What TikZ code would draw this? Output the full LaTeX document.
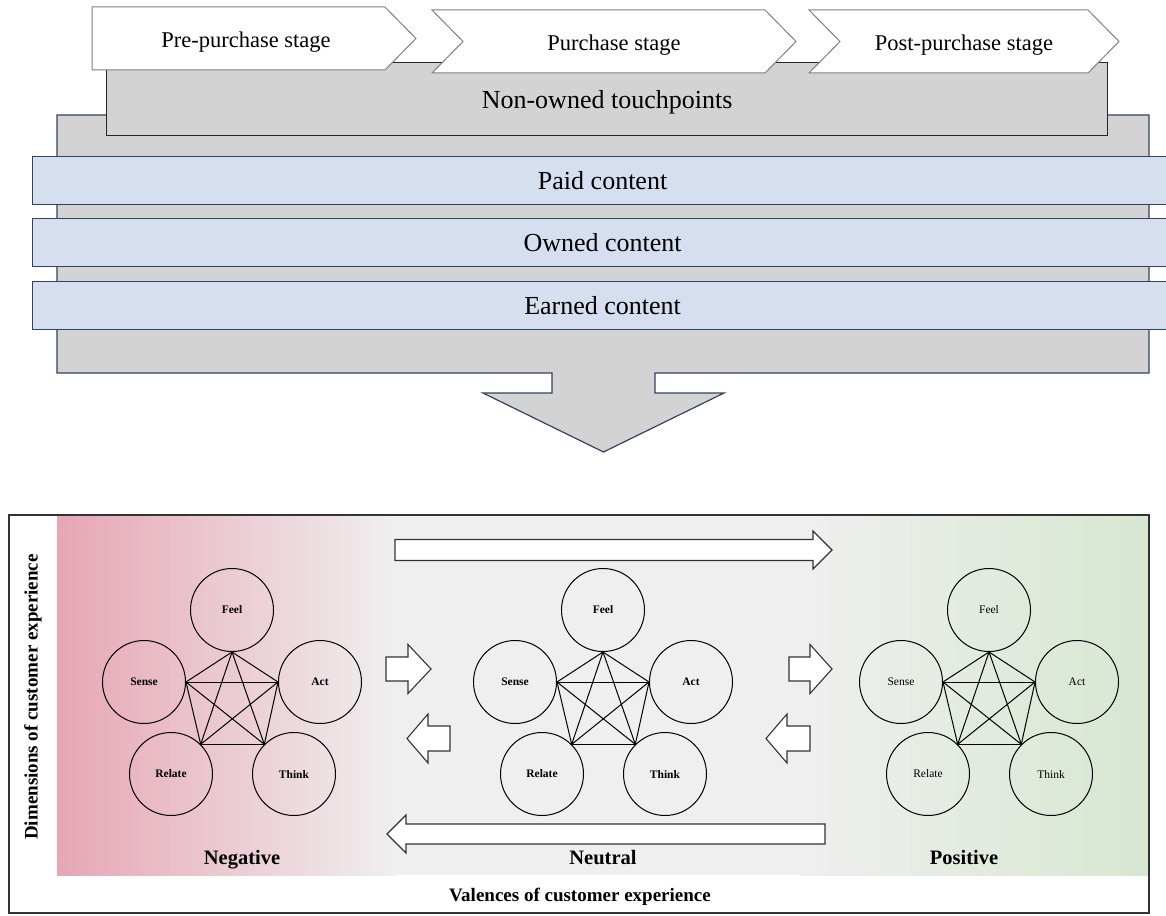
\documentclass[tikz,border=0pt]{standalone}
\usepackage{fontspec}
\setmainfont{Liberation Serif}
\usetikzlibrary{positioning}
\definecolor{bandblue}{RGB}{214,223,239}
\definecolor{bandline}{RGB}{50,66,96}
\definecolor{boxgray}{RGB}{211,211,211}
\definecolor{negpink}{RGB}{231,166,181}
\definecolor{midgray}{RGB}{239,239,239}
\definecolor{posgreen}{RGB}{215,231,209}

\tikzset{outerbox/.style={draw=bandline,fill=boxgray,line width=1.2pt}}
\tikzset{band/.style={draw=bandline,fill=bandblue,line width=1.2pt,anchor=north west,
                      minimum width=1140,minimum height=48,font=\fontsize{26}{30}\selectfont}}
\tikzset{touch/.style={draw=black!85,fill=boxgray,line width=1.2pt,anchor=north west,
                       minimum width=1001,minimum height=73,text depth=0pt,
                       font=\fontsize{26}{30}\selectfont}}
\tikzset{stagebox/.style={draw=black!50,fill=white,line width=1pt}}
\tikzset{stagetext/.style={anchor=base,font=\fontsize{22.5}{26}\selectfont}}
\tikzset{dimcircle/.style={draw,circle,line width=1pt,minimum size=83,inner sep=0pt}}
\tikzset{dimlink/.style={line width=1pt}}
\tikzset{valence/.style={anchor=base,font=\fontsize{20.5}{24}\selectfont\bfseries}}
\tikzset{axislabel/.style={font=\fontsize{19}{22}\selectfont\bfseries}}
\tikzset{blockarrow/.style={draw=black!80,fill=white,line width=1.1pt}}
\newcommand{\blockarrow}[6]{\draw[blockarrow] (#1,#4-#5) -- (#2,#4-#5) -- (#2,#4-#6) --
                            (#3,#4) -- (#2,#4+#6) -- (#2,#4+#5) -- (#1,#4+#5) -- cycle;}

\begin{document}
\begin{tikzpicture}[x=1pt,y=-1pt]
        \useasboundingbox (0,0) rectangle (1166,915);
        % Touchpoints and contents
        \draw[outerbox] (57,115) -- (1149,115) -- (1149,373) -- (655,373) -- (655,393) --
              (724,393) -- (603.5,452) -- (483,393) -- (552,393) -- (552,373) -- (57,373) -- cycle;
        \foreach \t/\y [count=\bi] in {Paid content/156,Owned content/218,Earned content/281}{%
              \node[band] (band\bi) at (32,\y) {\t};
            }
        \node[touch] (nonowned) at (106,62) {Non-owned touchpoints};
        % Stages
        \foreach \xl/\xr/\yt/\n/\xt/\t [count=\si] in {92/385/7/0/246/Pre-purchase stage,
                 432/765/10/31/614/Purchase stage,809/1088/10/31/964/Post-purchase stage}{%
              \draw[stagebox] (\xl,\yt) -- (\xr,\yt) -- ++(31,31.5) -- (\xr,\yt+63) --
                    (\xl,\yt+63) -- ++(\n,-31.5) -- cycle;
              \node[stagetext] (stage\si) at (\xt,\yt+41) {\t};
            }
        % Valences
        \shade[left color=negpink,right color=midgray] (57,516) rectangle (395,875);
        \fill[midgray] (394,516) rectangle (801,875);
        \shade[left color=midgray,right color=posgreen] (800,516) rectangle (1148,875);
        \draw[line width=1.2pt,black!80] (9,515) rectangle (1149,913);
        \foreach \cx/\cf [count=\ci] in {232/\bfseries,603/\bfseries,989/\mdseries}{%
              \begin{scope}[every node/.append style={font=\fontsize{11.5}{13}\selectfont\cf}]
              \node[dimcircle] (feel\ci) at (\cx,610) {Feel};
              \node[dimcircle] (sense\ci) at (\cx-88,682) {Sense};
              \node[dimcircle] (act\ci) at (\cx+88,682) {Act};
              \node[dimcircle] (relate\ci) at (\cx-61,774) {Relate};
              \node[dimcircle] (think\ci) at (\cx+62,774) {Think};
              \end{scope}
              \coordinate (f\ci) at (feel\ci.south);
              \coordinate (s\ci) at (sense\ci.east);
              \coordinate (a\ci) at (act\ci.west);
              \coordinate (r\ci) at (relate\ci.45);
              \coordinate (t\ci) at (think\ci.135);
              \foreach \p/\q in {f/s,f/a,f/r,f/t,s/a,s/r,s/t,a/r,a/t,r/t}{%
                    \draw[dimlink] (\p\ci) -- (\q\ci);
                  }
            }
        % Block arrows
        \foreach \xa/\xb/\xc/\ym/\hs/\hh in {395/813/832/550/10.5/19,825/406/387/834/10/19,
                 386/408/431/669/12/24.5,789/810/832/669/12/24.5,
                 450/428/407/738.5/12.5/24.5,810/787/766/738.5/12.5/24.5}{%
              \blockarrow{\xa}{\xb}{\xc}{\ym}{\hs}{\hh}
            }
        % Labels
        \node[valence] (neg) at (242,864) {Negative};
        \node[valence] (neu) at (603,864) {Neutral};
        \node[valence] (pos) at (964,864) {Positive};
        \node[axislabel,rotate=90] (dims) at (33,697) {Dimensions of customer experience};
        \node[axislabel] (vals) at (580,897) {Valences of customer experience};
    \end{tikzpicture}
\end{document}
